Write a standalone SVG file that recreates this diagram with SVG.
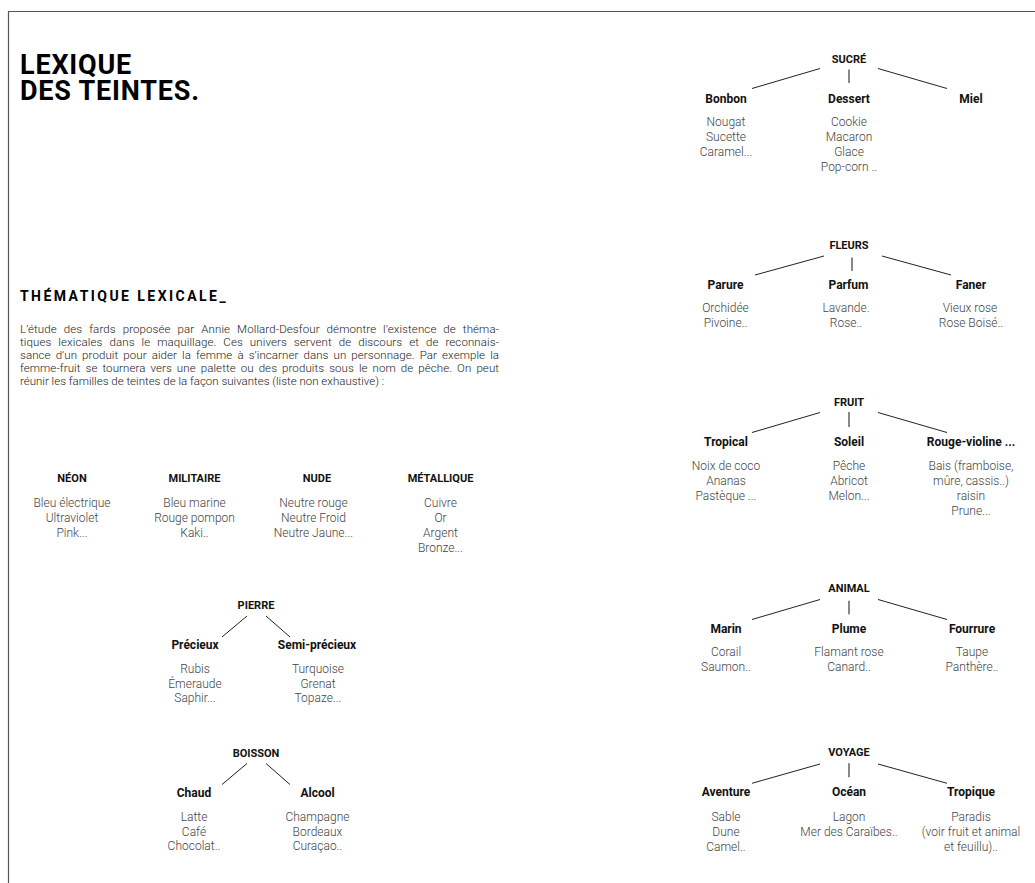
<svg xmlns="http://www.w3.org/2000/svg" width="1035" height="883" viewBox="0 0 1035 883">
<style>
text{font-family:Roboto,"Liberation Sans",sans-serif}
.title{font-size:27px;font-weight:700;fill:#000;letter-spacing:0.8px}
.sub{font-size:14px;font-weight:700;letter-spacing:2.45px;fill:#000}
.p{font-size:11.5px;font-weight:300;fill:#222}
.h{font-size:11px;font-weight:700;fill:#111;text-anchor:middle}
.c{font-size:12px;font-weight:700;fill:#111;text-anchor:middle}
.i{font-size:12px;font-weight:300;fill:#444;text-anchor:middle}
.ln{stroke:#222;stroke-width:1;fill:none}
.vl{stroke:#555;stroke-width:1.4;fill:none}
</style>
<rect width="1035" height="883" fill="#fff"/>
<path d="M8.5,883 V11.5 H1035" fill="none" stroke="#555" stroke-width="1.2"/>
<g id="title">
<text class="title" x="20" y="74">LEXIQUE<tspan x="20" y="100">DES TEINTES.</tspan></text>
</g>
<g id="intro">
<text class="sub" x="20" y="301">THÉMATIQUE LEXICALE_</text>
<text class="p" x="20" y="333" word-spacing="4" textLength="479" lengthAdjust="spacing">L’étude des fards proposée par Annie Mollard-Desfour démontre l’existence de théma-</text>
<text class="p" x="20" y="346" word-spacing="4" textLength="479" lengthAdjust="spacing">tiques lexicales dans le maquillage. Ces univers servent de discours et de reconnais-</text>
<text class="p" x="20" y="359" word-spacing="2.1" textLength="479" lengthAdjust="spacing">sance d’un produit pour aider la femme à s’incarner dans un personnage. Par exemple la</text>
<text class="p" x="20" y="372" word-spacing="2.1" textLength="479" lengthAdjust="spacing">femme-fruit se tournera vers une palette ou des produits sous le nom de pêche. On peut</text>
<text class="p" x="20" y="385">réunir les familles de teintes de la façon suivantes (liste non exhaustive) :</text>
</g>
<g id="connectors">
<line class="ln" x1="752" y1="88.5" x2="820" y2="68.5"/>
<line class="ln" x1="878" y1="68.5" x2="947" y2="88.5"/>
<line class="vl" x1="849" y1="69.5" x2="849" y2="83"/>
<line class="ln" x1="755" y1="275" x2="824" y2="256"/>
<line class="ln" x1="882" y1="256" x2="951" y2="275"/>
<line class="vl" x1="852" y1="257.5" x2="852" y2="271"/>
<line class="ln" x1="752" y1="432.5" x2="820" y2="412.5"/>
<line class="ln" x1="878" y1="412.5" x2="947" y2="432.5"/>
<line class="vl" x1="849" y1="412" x2="849" y2="427"/>
<line class="ln" x1="752" y1="619.5" x2="820" y2="599.5"/>
<line class="ln" x1="878" y1="599.5" x2="947" y2="619.5"/>
<line class="vl" x1="849" y1="600.7" x2="849" y2="614.3"/>
<line class="ln" x1="752" y1="783.3" x2="820" y2="764"/>
<line class="ln" x1="878" y1="764" x2="947" y2="783.3"/>
<line class="vl" x1="849" y1="763.3" x2="849" y2="777.3"/>
<line class="ln" x1="222" y1="637" x2="247" y2="616"/>
<line class="ln" x1="266" y1="616" x2="290" y2="637"/>
<line class="ln" x1="222" y1="784.5" x2="247" y2="763.5"/>
<line class="ln" x1="266" y1="763.5" x2="290" y2="784.5"/>
</g>
<g id="neon">
<text class="h" x="72" y="482">NÉON</text>
<text class="i" x="72" y="507">Bleu électrique</text>
<text class="i" x="72" y="522">Ultraviolet</text>
<text class="i" x="72" y="537">Pink...</text>
</g>
<g id="militaire">
<text class="h" x="194.5" y="482">MILITAIRE</text>
<text class="i" x="194.5" y="507">Bleu marine</text>
<text class="i" x="194.5" y="522">Rouge pompon</text>
<text class="i" x="194.5" y="537">Kaki..</text>
</g>
<g id="nude">
<text class="h" x="317" y="482">NUDE</text>
<text class="i" x="313.5" y="507">Neutre rouge</text>
<text class="i" x="313.5" y="522">Neutre Froid</text>
<text class="i" x="313.5" y="537">Neutre Jaune...</text>
</g>
<g id="metallique">
<text class="h" x="440.5" y="482">MÉTALLIQUE</text>
<text class="i" x="440.5" y="507">Cuivre</text>
<text class="i" x="440.5" y="522">Or</text>
<text class="i" x="440.5" y="537">Argent</text>
<text class="i" x="440.5" y="552">Bronze...</text>
</g>
<g id="pierre">
<text class="h" x="256" y="608.5">PIERRE</text>
<text class="c" x="195" y="648.5">Précieux</text>
<text class="i" x="195" y="672.5">Rubis</text>
<text class="i" x="195" y="687.5">Émeraude</text>
<text class="i" x="195" y="702">Saphir...</text>
<text class="c" x="317" y="648.5">Semi-précieux</text>
<text class="i" x="318" y="672.5">Turquoise</text>
<text class="i" x="318" y="687.5">Grenat</text>
<text class="i" x="318" y="702">Topaze...</text>
</g>
<g id="boisson">
<text class="h" x="256" y="757">BOISSON</text>
<text class="c" x="194" y="797">Chaud</text>
<text class="i" x="194" y="821">Latte</text>
<text class="i" x="194" y="835.5">Café</text>
<text class="i" x="194" y="850">Chocolat..</text>
<text class="c" x="317.5" y="797">Alcool</text>
<text class="i" x="317.5" y="821">Champagne</text>
<text class="i" x="317.5" y="835.5">Bordeaux</text>
<text class="i" x="317.5" y="850">Curaçao..</text>
</g>
<g id="sucre">
<text class="h" x="849" y="63">SUCRÉ</text>
<text class="c" x="726" y="102.5">Bonbon</text>
<text class="i" x="726" y="125.5">Nougat</text>
<text class="i" x="726" y="140.5">Sucette</text>
<text class="i" x="726" y="155.5">Caramel...</text>
<text class="c" x="849" y="102.5">Dessert</text>
<text class="i" x="849" y="125.5">Cookie</text>
<text class="i" x="849" y="140.5">Macaron</text>
<text class="i" x="849" y="155.5">Glace</text>
<text class="i" x="849" y="170.5">Pop-corn ..</text>
<text class="c" x="971" y="102.5">Miel</text>
</g>
<g id="fleurs">
<text class="h" x="849" y="248.5">FLEURS</text>
<text class="c" x="725.5" y="288.5">Parure</text>
<text class="i" x="725.5" y="311.5">Orchidée</text>
<text class="i" x="725.5" y="326.5">Pivoine..</text>
<text class="c" x="848.5" y="288.5">Parfum</text>
<text class="i" x="846" y="311.5">Lavande.</text>
<text class="i" x="846" y="326.5">Rose..</text>
<text class="c" x="971" y="288.5">Faner</text>
<text class="i" x="970" y="311.5">Vieux rose</text>
<text class="i" x="971" y="326.5">Rose Boisé..</text>
</g>
<g id="fruit">
<text class="h" x="849" y="406">FRUIT</text>
<text class="c" x="726" y="446">Tropical</text>
<text class="i" x="726" y="469.5">Noix de coco</text>
<text class="i" x="726" y="484.5">Ananas</text>
<text class="i" x="726" y="499.5">Pastèque ...</text>
<text class="c" x="849" y="446">Soleil</text>
<text class="i" x="849" y="469.5">Pêche</text>
<text class="i" x="849" y="484.5">Abricot</text>
<text class="i" x="849" y="499.5">Melon...</text>
<text class="c" x="971" y="446">Rouge-violine ...</text>
<text class="i" x="971" y="469.5">Bais (framboise,</text>
<text class="i" x="971" y="484.5">mûre, cassis..)</text>
<text class="i" x="971" y="499.5">raisin</text>
<text class="i" x="971" y="514.5">Prune...</text>
</g>
<g id="animal">
<text class="h" x="849" y="592">ANIMAL</text>
<text class="c" x="726" y="632.5">Marin</text>
<text class="i" x="726" y="656">Corail</text>
<text class="i" x="726" y="671">Saumon..</text>
<text class="c" x="849" y="632.5">Plume</text>
<text class="i" x="849" y="656">Flamant rose</text>
<text class="i" x="849" y="671">Canard..</text>
<text class="c" x="972" y="632.5">Fourrure</text>
<text class="i" x="972" y="656">Taupe</text>
<text class="i" x="972" y="671">Panthère..</text>
</g>
<g id="voyage">
<text class="h" x="849" y="756">VOYAGE</text>
<text class="c" x="726" y="796">Aventure</text>
<text class="i" x="726" y="820.5">Sable</text>
<text class="i" x="726" y="835.5">Dune</text>
<text class="i" x="726" y="850.5">Camel..</text>
<text class="c" x="849" y="796">Océan</text>
<text class="i" x="849" y="820.5">Lagon</text>
<text class="i" x="849" y="835.5">Mer des Caraïbes..</text>
<text class="c" x="971" y="796">Tropique</text>
<text class="i" x="971" y="820.5">Paradis</text>
<text class="i" x="971" y="835.5">(voir fruit et animal</text>
<text class="i" x="971" y="850.5">et feuillu)..</text>
</g>
</svg>
